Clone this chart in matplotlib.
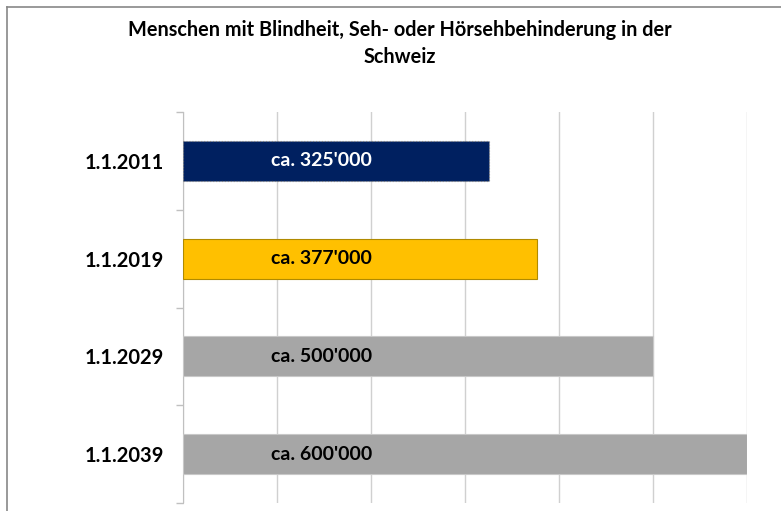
import matplotlib.pyplot as plt
from matplotlib.lines import Line2D

# Daten
kategorien = ["1.1.2011", "1.1.2019", "1.1.2029", "1.1.2039"]
werte = [325000, 377000, 500000, 600000]
beschriftungen = ["ca. 325'000", "ca. 377'000", "ca. 500'000", "ca. 600'000"]
farben = ["#002060", "#FFC000", "#A6A6A6", "#A6A6A6"]
randfarben = ["#7F7F7F", "#B08A00", "#C8C8C8", "#C8C8C8"]
textfarben = ["white", "black", "black", "black"]

plt.rcParams["font.family"] = ["Lato", "DejaVu Sans"]

fig = plt.figure(figsize=(7.81, 5.11), dpi=100)
ax = fig.add_axes([183 / 781, 8 / 511, (747 - 183) / 781, (503 - 112) / 511])

y = list(range(len(kategorien)))
for i in y:
    ls = ":" if i == 0 else "-"
    ax.barh(i, werte[i], height=0.41, color=farben[i], edgecolor=randfarben[i],
            linewidth=0.8, linestyle=ls, zorder=3)
    ax.text(147000, i, beschriftungen[i], ha="center", va="center",
            fontsize=14, fontweight="bold", color=textfarben[i], zorder=4)

ax.set_xlim(0, 600000)
ax.set_ylim(len(kategorien) - 0.5, -0.5)
ax.set_xticks(range(0, 600001, 100000))
ax.xaxis.grid(True, color="#D0D0D0", linewidth=1, zorder=0)
ax.tick_params(axis="x", length=0, labelbottom=False)

ax.set_yticks(y)
ax.set_yticklabels(kategorien, fontsize=14.5, fontweight="bold")
ax.tick_params(axis="y", which="major", length=0, pad=14)
ax.set_yticks([-0.5, 0.5, 1.5, 2.5, 3.5], minor=True)
ax.tick_params(axis="y", which="minor", length=5, color="#C0C0C0", width=1)

for s in ["top", "right", "bottom"]:
    ax.spines[s].set_visible(False)
ax.spines["left"].set_color("#C0C0C0")

fig.text(400 / 781, 1 - 30 / 511, "Menschen mit Blindheit, Seh- oder Hörsehbehinderung in der",
         ha="center", va="center", fontsize=14.3, fontweight="bold")
fig.text(400 / 781, 1 - 57 / 511, "Schweiz",
         ha="center", va="center", fontsize=14.3, fontweight="bold")

# Rahmen
fig.add_artist(Line2D([7 / 781, 7 / 781], [0, 1 - 7 / 511], transform=fig.transFigure,
                      color="#888888", linewidth=1.2))
fig.add_artist(Line2D([7 / 781, 1], [1 - 7 / 511, 1 - 7 / 511], transform=fig.transFigure,
                      color="#888888", linewidth=1.2))

fig.savefig("out.png", dpi=100)
